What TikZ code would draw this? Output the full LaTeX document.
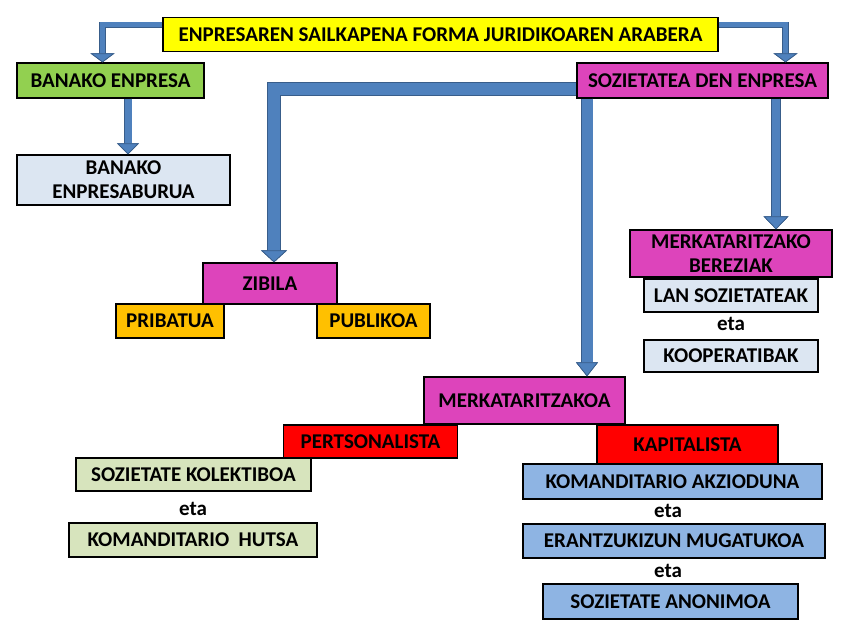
\documentclass[tikz,border=0pt]{standalone}
\usepackage{fontspec}
\setmainfont{Carlito}
\usetikzlibrary{arrows.meta}
\definecolor{cyellow}{RGB}{255,255,0}
\definecolor{cgreen}{RGB}{146,208,80}
\definecolor{cmag}{RGB}{221,68,187}
\definecolor{clight}{RGB}{220,230,242}
\definecolor{corange}{RGB}{255,192,0}
\definecolor{cred}{RGB}{255,0,0}
\definecolor{clgreen}{RGB}{215,228,189}
\definecolor{cblue}{RGB}{142,180,227}
\definecolor{arrblue}{RGB}{79,129,189}
\definecolor{arrdark}{RGB}{56,93,138}
\begin{document}
\begin{tikzpicture}[x=1pt,y=-1pt,
  box/.style={draw=black, line width=1.3pt, inner sep=0pt, align=center,
    font=\fontsize{21}{24}\selectfont\bfseries},
  etatext/.style={inner sep=0pt, font=\fontsize{21}{24}\selectfont\bfseries},
  conn/.style n args={3}{arrblue, line width=#1,
    preaction={draw=arrdark, line width=#1+1.4pt},
    -{Triangle[width=#2,length=#3,line width=0.7pt,color=arrdark,fill=arrblue]}}]
\useasboundingbox (0,0) rectangle (848,636);
% nodes
\node[box, fill=cyellow, minimum width=555pt, minimum height=34pt] (title) at (440.5,34.5) {ENPRESAREN SAILKAPENA FORMA JURIDIKOAREN ARABERA};
\node[box, fill=cgreen, minimum width=187pt, minimum height=35pt] (banako) at (110.5,80.5) {BANAKO ENPRESA};
\node[box, fill=cmag, minimum width=251pt, minimum height=35pt] (soz) at (702.5,80.5) {SOZIETATEA DEN ENPRESA};
\node[box, fill=clight, minimum width=213pt, minimum height=50pt] (bb) at (123.5,180) {BANAKO\\ENPRESABURUA};
\node[box, fill=cmag, minimum width=134pt, minimum height=41pt] (zib) at (270,283.5) {ZIBILA};
\node[box, fill=corange, minimum width=108pt, minimum height=34pt] (pri) at (170,321) {PRIBATUA};
\node[box, fill=corange, minimum width=113pt, minimum height=34pt] (pub) at (373.5,321) {PUBLIKOA};
\node[box, fill=cmag, minimum width=202pt, minimum height=47pt] (ber) at (731,253.5) {MERKATARITZAKO\\BEREZIAK};
\node[box, fill=clight, minimum width=174pt, minimum height=33pt] (lan) at (731,295.5) {LAN SOZIETATEAK};
\node[etatext] (eta1) at (731,324) {eta};
\node[box, fill=clight, minimum width=174pt, minimum height=32pt] (koop) at (731,356) {KOOPERATIBAK};
\node[box, fill=cmag, minimum width=201pt, minimum height=47pt] (merk) at (524.5,400.5) {MERKATARITZAKOA};
\node[box, fill=cred, minimum width=174pt, minimum height=33pt] (pert) at (370.5,441.5) {PERTSONALISTA};
\node[box, fill=cred, minimum width=181pt, minimum height=39pt] (kap) at (687.5,444.5) {KAPITALISTA};
\node[box, fill=clgreen, minimum width=235pt, minimum height=33pt] (kol) at (193.5,474.5) {SOZIETATE KOLEKTIBOA};
\node[etatext] (eta2) at (193,509) {eta};
\node[box, fill=clgreen, minimum width=248pt, minimum height=34pt] (hutsa) at (193,540) {KOMANDITARIO\ \ HUTSA};
\node[box, fill=cblue, minimum width=299pt, minimum height=35pt] (akz) at (672.5,481.5) {KOMANDITARIO AKZIODUNA};
\node[etatext] (eta3) at (668,511) {eta};
\node[box, fill=cblue, minimum width=302pt, minimum height=34pt] (mug) at (674,541) {ERANTZUKIZUN MUGATUKOA};
\node[etatext] (eta4) at (668,571) {eta};
\node[box, fill=cblue, minimum width=255pt, minimum height=35pt] (anon) at (670.5,601.5) {SOZIETATE ANONIMOA};
% connectors
\draw[conn={5pt}{24pt}{9pt}] ([yshift=9.5pt]title.west) -| ([xshift=-8pt]banako.north);
\draw[conn={5pt}{24pt}{9pt}] ([yshift=9.5pt]title.east) -| ([xshift=83pt]soz.north);
\draw[conn={7pt}{22pt}{11pt}] ([xshift=17.5pt]banako.south) -- ([xshift=4.5pt]bb.north);
\draw[conn={12pt}{26pt}{12pt}] ([yshift=-8.5pt]soz.west) -| ([xshift=4pt]zib.north);
\draw[conn={11pt}{22pt}{14pt}] ([xshift=-115.5pt]soz.south) -- ([xshift=62.5pt]merk.north);
\draw[conn={8pt}{25pt}{13pt}] ([xshift=73.5pt]soz.south) -- ([xshift=45pt]ber.north);
\end{tikzpicture}
\end{document}
